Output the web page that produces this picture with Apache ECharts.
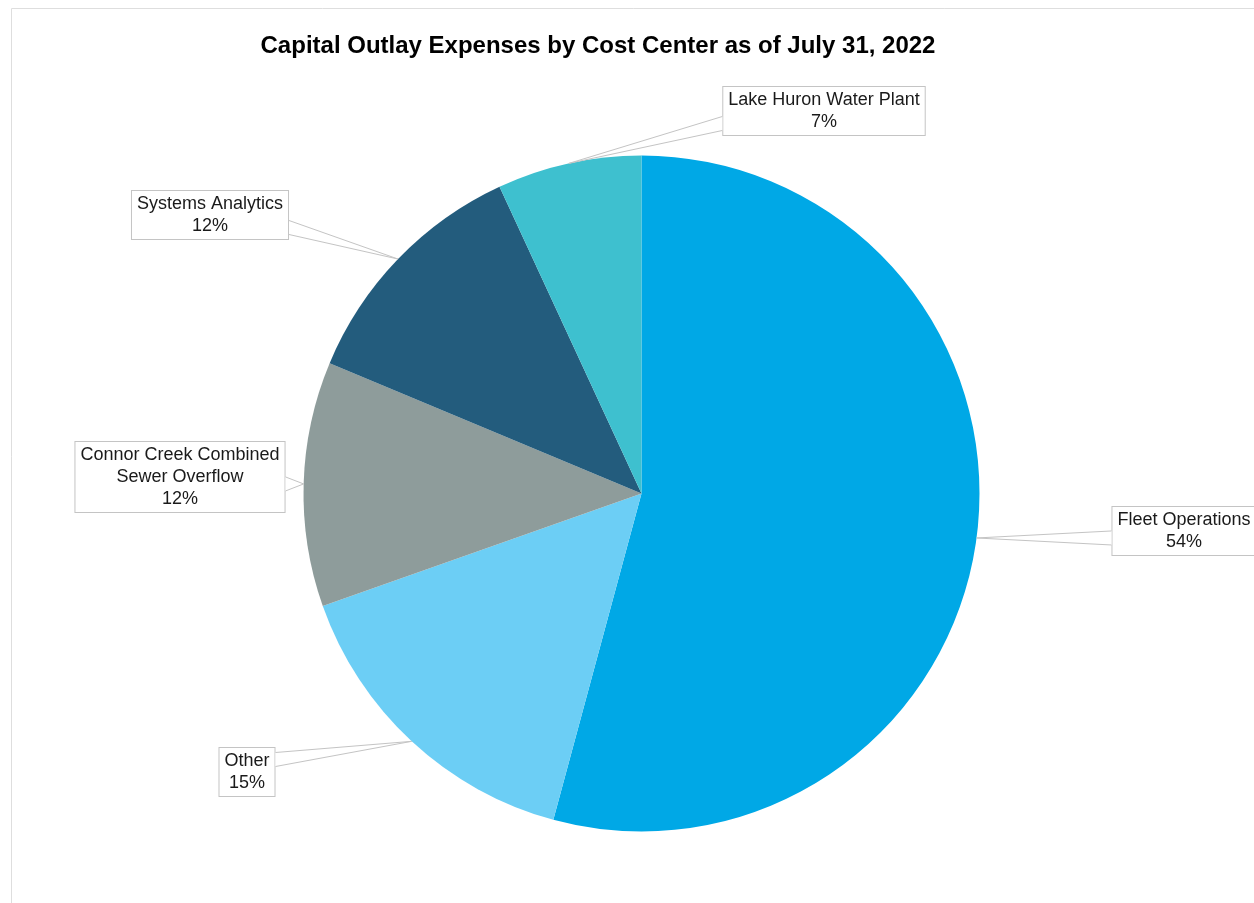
<!DOCTYPE html>
<html>
<head>
<meta charset="utf-8">
<title>Capital Outlay Expenses by Cost Center</title>
<script src="https://cdn.jsdelivr.net/npm/echarts@6/dist/echarts.min.js"></script>
<style>
  html, body { margin: 0; padding: 0; background: #ffffff; }
  #chart { width: 1254px; height: 903px; }
</style>
</head>
<body>
<div id="chart"></div>
<script>
// Cost centers, clockwise from 12 o'clock
const categories = [
  'Fleet Operations',
  'Other',
  'Connor Creek Combined Sewer Overflow',
  'Systems Analytics',
  'Lake Huron Water Plant'
];
// Share of capital outlay expenses (percent of total)
const shares = [54.2, 15.4, 11.7, 11.8, 6.9];
const sliceColors = ['#00A8E6', '#6CCEF5', '#8E9C9B', '#235C7D', '#3EC0CF'];

// Callout box centres (px), one per cost center
const calloutCenters = [
  [1184, 530],
  [247, 771],
  [180, 476],
  [210, 214],
  [824, 110]
];
// Line breaks used inside callouts
const calloutNames = {
  'Connor Creek Combined Sewer Overflow': 'Connor Creek Combined\nSewer Overflow'
};

const FONT = '"Liberation Sans", Arial, Helvetica, sans-serif';
const chart = echarts.init(document.getElementById('chart'), null, { renderer: 'canvas' });

const option = {
  animation: false,
  backgroundColor: '#ffffff',
  title: {
    text: 'Capital Outlay Expenses by Cost Center as of July 31, 2022',
    left: 598,
    top: 34,
    padding: 0,
    textAlign: 'center',
    textStyle: { fontFamily: FONT, fontSize: 24, fontWeight: 'bold', color: '#000000' }
  },
  graphic: [{
    type: 'rect',
    id: 'frame',
    shape: { x: 11.5, y: 8.5, width: 1400, height: 1000 },
    style: { fill: 'none', stroke: '#dedede', lineWidth: 1 },
    silent: true,
    z: -10
  }],
  series: [{
    type: 'pie',
    center: [641.5, 493.5],
    radius: 338,
    startAngle: 90,
    clockwise: true,
    avoidLabelOverlap: false,
    data: categories.map((name, i) => ({ name, value: shares[i], itemStyle: { color: sliceColors[i] } })),
    itemStyle: { borderWidth: 0 },
    emphasis: { disabled: true },
    label: {
      show: true,
      position: 'outside',
      formatter: p => (calloutNames[p.name] || p.name) + '\n' + Math.round(p.percent) + '%',
      fontFamily: FONT,
      fontSize: 18,
      lineHeight: 22,
      color: '#1a1a1a',
      align: 'center',
      backgroundColor: '#ffffff',
      borderColor: '#c4c4c4',
      borderWidth: 1,
      padding: [4, 5, 0, 5]
    },
    labelLine: { show: false },
    labelLayout: params => {
      const c = calloutCenters[params.dataIndex];
      return { x: c[0], y: c[1] + 1, align: 'center', verticalAlign: 'middle' };
    }
  }]
};
chart.setOption(option);

// Wedge-shaped callout pointers: from each box side to the slice's mid-arc point
let pointersDrawn = false;
function drawPointers() {
  if (pointersDrawn) return;
  const seriesModel = chart.getModel().getSeriesByIndex(0);
  const data = seriesModel.getData();
  const shapes = [];
  for (let i = 0; i < data.count(); i++) {
    const layout = data.getItemLayout(i);
    const el = data.getItemGraphicEl(i);
    const label = el && el.getTextContent();
    if (!layout || !label) continue;
    const mid = (layout.startAngle + layout.endAngle) / 2;
    const tip = [layout.cx + layout.r * Math.cos(mid), layout.cy + layout.r * Math.sin(mid)];
    const rect = label.getBoundingRect().clone();
    rect.applyTransform(label.getComputedTransform());
    const left = rect.x, right = rect.x + rect.width, top = rect.y, bottom = rect.y + rect.height;
    const half = 7;
    let b1, b2;
    if (tip[0] < left || tip[0] > right) {
      const sx = tip[0] < left ? left : right;
      const cy = Math.min(Math.max(tip[1], top + rect.height * 0.25), bottom - rect.height * 0.25);
      b1 = [sx, cy - half]; b2 = [sx, cy + half];
    } else {
      const sy = tip[1] < top ? top : bottom;
      const cx = Math.min(Math.max(tip[0], left + rect.width * 0.25), right - rect.width * 0.25);
      b1 = [cx - half, sy]; b2 = [cx + half, sy];
    }
    shapes.push({
      type: 'polygon',
      id: 'pointer-fill-' + i,
      shape: { points: [b1, tip, b2] },
      style: { fill: '#ffffff', stroke: 'none' },
      silent: true, z: 50
    });
    shapes.push({
      type: 'polyline',
      id: 'pointer-line-' + i,
      shape: { points: [b1, tip, b2] },
      style: { stroke: '#c4c4c4', lineWidth: 1, fill: 'none' },
      silent: true, z: 51
    });
  }
  pointersDrawn = true;
  const frame = option.graphic[0];
  chart.setOption({ graphic: [frame].concat(shapes) });
}
chart.on('finished', drawPointers);
drawPointers();
</script>
</body>
</html>
